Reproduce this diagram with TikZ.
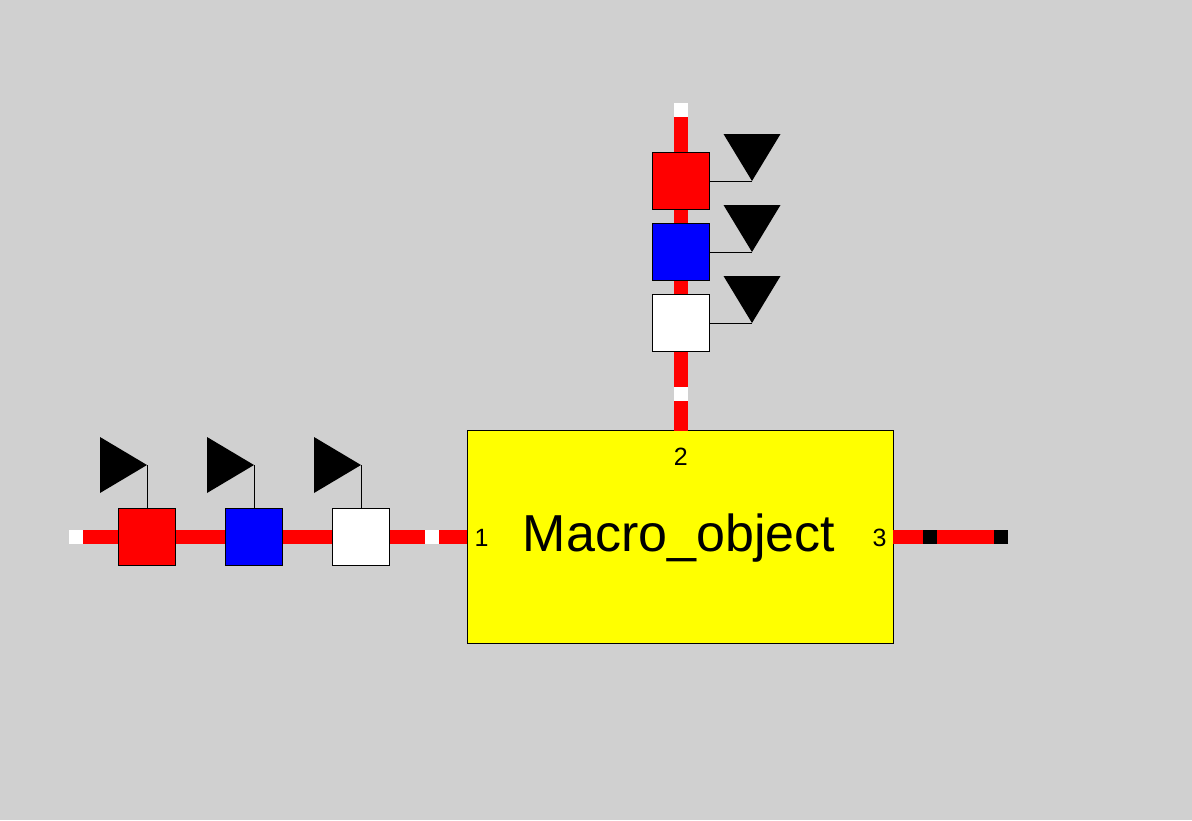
\documentclass[tikz,border=0pt]{standalone}
\usepackage{fontspec}
\setmainfont{Liberation Sans}
\usetikzlibrary{calc}
\definecolor{bg}{RGB}{208,208,208}
\definecolor{pipe}{RGB}{255,0,0}
\definecolor{macro}{RGB}{255,255,0}
\definecolor{vblue}{RGB}{0,0,255}
\tikzset{
  pipeline/.style={draw=pipe, line width=14pt, line cap=butt},
  gap/.style={draw=white, line width=14pt, line cap=butt},
  blackgap/.style={draw=black, line width=14pt, line cap=butt},
  valve/.style={draw=black, line width=1pt, minimum width=57pt, minimum height=57pt, inner sep=0pt, outer sep=0pt},
  macrobox/.style={draw=black, line width=1pt, fill=macro, minimum width=426pt, minimum height=213pt, inner sep=0pt, outer sep=0pt},
  stem/.style={draw=black, line width=1pt},
  flag/.style={fill=black},
  portlabel/.style={font=\fontsize{25}{30}\selectfont, anchor=base, inner sep=0pt},
  biglabel/.style={font=\fontsize{52}{62}\selectfont, anchor=base, inner sep=0pt}
}
\begin{document}
\begin{tikzpicture}[x=1pt,y=-1pt]
\fill[bg] (0,0) rectangle (1192,820);
\useasboundingbox (0,0) rectangle (1192,820);

% main block
\node[macrobox] (M) at (680,537) {};

% end coordinates
\coordinate (Lend) at (69,537);
\coordinate (Tend) at (681,103);
\coordinate (Rend) at (1008,537);

% pipelines
\draw[pipeline] (Lend) -- (M.west |- Lend);
\draw[pipeline] (Tend) -- (Tend |- M.north);
\draw[pipeline] (M.east |- Rend) -- (Rend);

% gaps
\draw[gap] (Lend) -- ++(14,0);
\draw[gap] (425,537) -- (439,537);
\draw[gap] (Tend) -- ++(0,14);
\draw[gap] (681,387) -- (681,401);
\draw[blackgap] (923,537) -- (937,537);
\draw[blackgap] (Rend) -- ++(-14,0);

% left chain valves
\node[valve, fill=pipe]  (L1) at (147,537) {};
\node[valve, fill=vblue] (L2) at (254,537) {};
\node[valve, fill=white] (L3) at (361,537) {};

% top chain valves
\node[valve, fill=pipe]  (T1) at (681,181) {};
\node[valve, fill=vblue] (T2) at (681,252) {};
\node[valve, fill=white] (T3) at (681,323) {};

% left flags
\foreach \b in {L1,L2,L3}{
  \coordinate (\b tip) at ($(\b.north)+(0,-43.5)$);
  \draw[stem] (\b.north) -- (\b tip);
  \fill[flag] (\b tip) -- ++(-47,-28) -- ++(0,56) -- cycle;
}
% top flags
\foreach \b in {T1,T2,T3}{
  \coordinate (\b tip) at ($(\b.east)+(42.5,0)$);
  \draw[stem] (\b.east) -- (\b tip);
  \fill[flag] (\b tip) -- ++(-28.5,-47) -- ++(57,0) -- cycle;
}

% labels
\node[biglabel] (title) at (679,551.7) {Macro\_object};
\node[portlabel] (p1) at (481.5,546.7) {1};
\node[portlabel] (p2) at (680.7,465.7) {2};
\node[portlabel] (p3) at (879.5,546.7) {3};
\end{tikzpicture}
\end{document}
